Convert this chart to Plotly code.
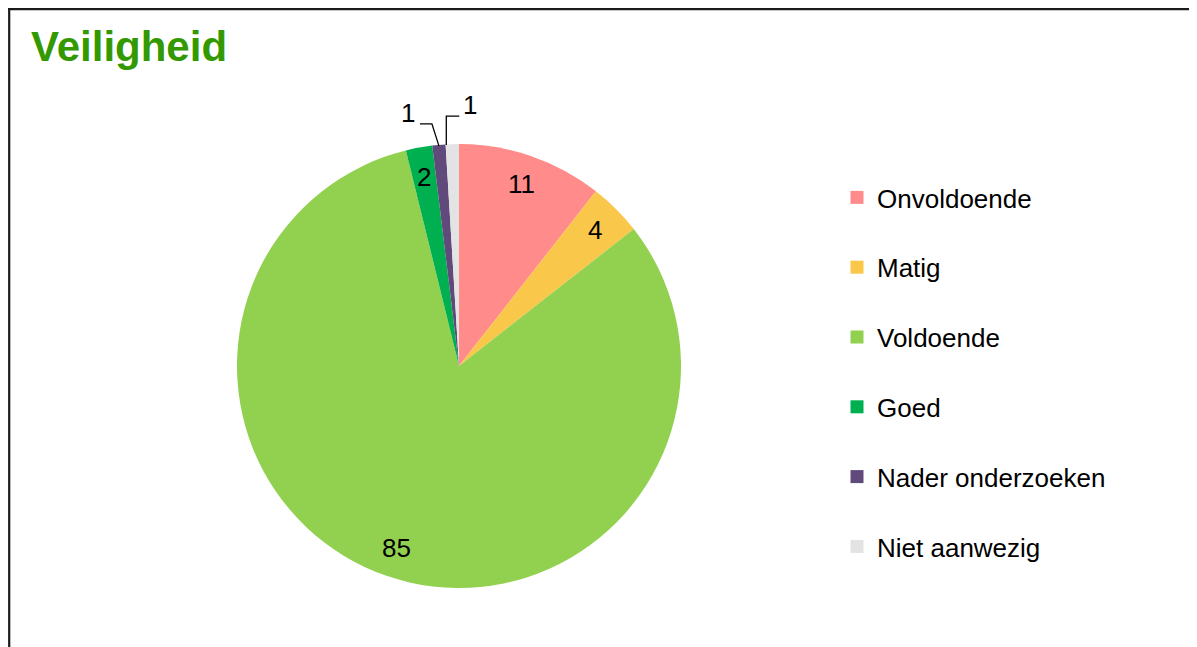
import math
import plotly.graph_objects as go

# ---- data ----
categories = ["Onvoldoende", "Matig", "Voldoende", "Goed", "Nader onderzoeken", "Niet aanwezig"]
values = [11, 4, 85, 2, 1, 1]
colors = ["#FF8B8B", "#F9C749", "#92D050", "#00B050", "#604A7B", "#E3E3E3"]
outside_labels = ["Nader onderzoeken", "Niet aanwezig"]

W, H = 1197, 647
OFF = 8  # page body margin of the browser
CX, CY, R = 459, 366, 222  # pie centre / radius in screen px


def px(x):
    return (x - OFF) / W


def py(y):
    return 1 - (y - OFF) / H


LABEL_FONT = dict(size=26, color="black", family="Liberation Sans, Arial")

fig = go.Figure()

fig.add_trace(go.Pie(
    labels=categories,
    values=values,
    marker=dict(colors=colors, line=dict(width=0)),
    sort=False,
    direction="clockwise",
    rotation=0,
    textinfo="none",
    hoverinfo="skip",
    showlegend=False,
    domain=dict(x=[px(CX - R), px(CX + R)], y=[py(CY + R), py(CY - R)]),
))

# legend entries (one group per category so gaps can be set)
for cat, col in zip(categories, colors):
    fig.add_trace(go.Scatter(
        x=[None], y=[None], mode="markers", name=cat,
        marker=dict(symbol="square", size=13, color=col),
        legendgroup=cat, showlegend=True, hoverinfo="skip",
    ))

# data labels computed from values
total = sum(values)
cum = 0
annotations = []
shapes = []
for cat, v in zip(categories, values):
    mid = (cum + v / 2) / total * 2 * math.pi
    cum += v
    if cat not in outside_labels:
        r = 0.865 * R
        x = CX + r * math.sin(mid)
        y = CY - r * math.cos(mid)
        annotations.append(dict(x=px(x), y=py(y), xref="paper", yref="paper",
                                xanchor="center", yanchor="middle",
                                text=str(v), showarrow=False, font=LABEL_FONT))
    else:
        ex = CX + R * math.sin(mid)
        ey = CY - R * math.cos(mid) + 1
        if cat == "Nader onderzoeken":
            pts = [(ex, ey), (ex - 7, ey - 22), (ex - 19, ey - 22)]
            lx, ly = ex - 31, ey - 33
        else:
            ex -= 6
            pts = [(ex, ey), (ex, ey - 29), (ex + 13, ey - 29)]
            lx, ly = ex + 24, ey - 40
        path = "M " + " L ".join(f"{px(a):.5f},{py(b):.5f}" for a, b in pts)
        shapes.append(dict(type="path", path=path, xref="paper", yref="paper",
                           line=dict(color="black", width=1.3)))
        annotations.append(dict(x=px(lx), y=py(ly), xref="paper", yref="paper",
                                xanchor="center", yanchor="middle",
                                text=str(v), showarrow=False, font=LABEL_FONT))

# outer frame (partially visible)
shapes.append(dict(type="line", xref="paper", yref="paper",
                   x0=px(9.2), x1=px(9.2), y0=py(8), y1=0,
                   line=dict(color="#1a1a1a", width=2.2)))
shapes.append(dict(type="line", xref="paper", yref="paper",
                   x0=px(8), x1=1, y0=py(9.2), y1=py(9.2),
                   line=dict(color="#1a1a1a", width=2.2)))

fig.update_layout(
    width=W, height=H,
    margin=dict(l=0, r=0, t=0, b=0),
    paper_bgcolor="white", plot_bgcolor="white",
    title=dict(text="<b>Veiligheid</b>", x=px(31), xanchor="left",
               y=py(46), yanchor="middle", xref="paper", yref="paper",
               font=dict(size=42, color="#339900", family="Liberation Sans, Arial")),
    xaxis=dict(visible=False), yaxis=dict(visible=False),
    showlegend=True,
    legend=dict(x=px(837), xanchor="left", y=py(174), yanchor="top",
                font=dict(size=26, color="black", family="Liberation Sans, Arial"),
                tracegroupgap=33, bgcolor="rgba(0,0,0,0)", itemclick=False,
                itemdoubleclick=False),
    annotations=annotations,
    shapes=shapes,
)

fig.write_html("out.html")
